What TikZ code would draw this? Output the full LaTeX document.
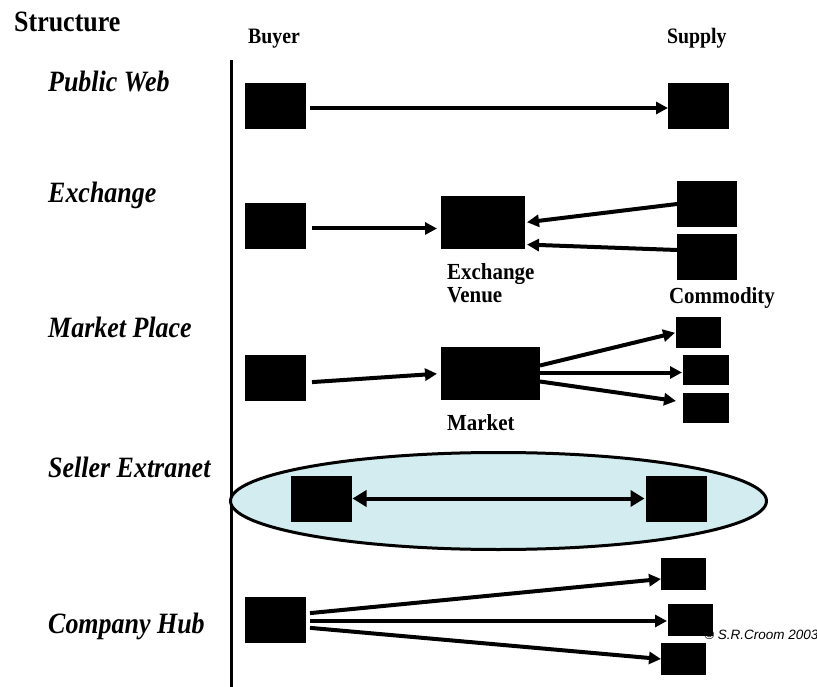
\documentclass[tikz,border=0pt]{standalone}
\usepackage{fontspec}
\setmainfont{Liberation Serif}
\newfontfamily\arialfont{Liberation Sans}
\usetikzlibrary{arrows.meta,shapes.geometric,calc}
\definecolor{netcyan}{RGB}{210,236,240}
% the original lettering is a little narrower than Times
\newcommand{\slim}[2][0.88]{\scalebox{#1}[1]{#2}}

\begin{document}
\begin{tikzpicture}[x=1pt,y=-1pt,
  blk/.style={fill=black,inner sep=0pt,outer sep=0pt,minimum width=61pt,minimum height=46pt},
  sblk/.style={fill=black,inner sep=0pt,outer sep=0pt,minimum width=45pt,minimum height=31pt},
  arr/.style={line width=4pt,-{Triangle[length=12pt,width=12pt]}},
  rowlab/.style={anchor=base west,inner sep=0pt,font=\fontsize{29.5}{34}\selectfont\bfseries\itshape},
  collab/.style={anchor=base west,inner sep=0pt,font=\fontsize{22}{24}\selectfont\bfseries},
  boxlab/.style={font=\fontsize{23}{23}\selectfont\bfseries,inner sep=0pt}]
\useasboundingbox (0,0) rectangle (817,687);
% Headings and row names
\node[anchor=base west,inner sep=0pt,font=\fontsize{29.5}{34}\selectfont\bfseries] (title) at (14,32) {\slim{Structure}};
\node[collab] (buyer) at (248,44) {\slim[0.9]{Buyer}};
\node[collab] (supply) at (667,44) {\slim[0.9]{Supply}};
\node[rowlab] (pwlab) at (48,92) {\slim{Public Web}};
\node[rowlab] (exlab) at (48,203) {\slim{Exchange}};
\node[rowlab] (mplab) at (48,337) {\slim{Market Place}};
\node[rowlab] (selab) at (48,477) {\slim{Seller Extranet}};
\node[rowlab] (chlab) at (48,633) {\slim{Company Hub}};
\coordinate (ltop) at (231.5,60);
\coordinate (lbot) at (231.5,687);
\draw[line width=3pt] (ltop) -- (lbot);
% Public Web
\node[blk] (pwb) at (275.5,106) {};
\node[blk] (pws) at (698.5,106) {};
\draw[arr,shorten <=4pt] ([yshift=-2pt]pwb.east) -- ([yshift=-2pt]pws.west);
% Exchange
\node[blk] (exb) at (275.5,226.5) {};
\node[blk,minimum width=84pt,minimum height=53pt] (exv) at (483,222.5) {};
\node[blk,minimum width=60pt] (exs1) at (707,204) {};
\node[blk,minimum width=60pt] (exs2) at (707,257) {};
\draw[arr,shorten <=6pt,shorten >=4pt] ([yshift=-2pt]exb.east) -- ([yshift=-2pt]exb.east -| exv.west);
\draw[arr,shorten >=2pt] (exs1.west) -- ([yshift=0pt]exv.east);
\draw[arr,shorten >=2pt] ([yshift=7pt]exs2.west) -- ([yshift=-22pt]exv.east);
\node[boxlab,anchor=north west,align=left] (exvlab) at (447,263) {\slim[0.91]{Exchange}\\\slim[0.91]{Venue}};
\node[boxlab,anchor=base] (comlab) at (722,303) {\slim[0.91]{Commodity}};
% Market Place
\node[blk] (mpb) at (275.5,377.5) {};
\node[blk,minimum width=99pt,minimum height=53pt] (mpm) at (490.5,373.5) {};
\node[sblk] (mps1) at (698.5,332.5) {};
\node[sblk,minimum width=46pt,minimum height=30pt] (mps2) at (706,370) {};
\node[sblk,minimum width=46pt,minimum height=30pt] (mps3) at (706,408) {};
\draw[arr,shorten <=6pt,shorten >=4pt] ([yshift=-5pt]mpb.east) -- (mpm.west);
\draw[arr,shorten >=1pt] ([yshift=8pt]mpm.east) -- (mps1.west);
\draw[arr,shorten >=1pt] ([yshift=1pt]mpm.east) -- ([yshift=1pt]mpm.east -| mps2.west);
\draw[arr] ([yshift=-8pt]mpm.east) -- ([xshift=-7pt,yshift=7pt]mps3.west);
\node[boxlab,anchor=base west] (mktlab) at (447,430) {\slim[0.91]{Market}};
% Seller Extranet
\node[ellipse,draw,line width=3pt,fill=netcyan,minimum width=536pt,minimum height=97pt] (net) at (498.5,501) {};
\node[blk] (seb) at (321,498.5) {};
\node[blk] (ses) at (676,498.5) {};
\draw[line width=4pt,{Triangle[length=14pt,width=16pt]}-{Triangle[length=14pt,width=16pt]},shorten <=1pt,shorten >=1pt] (seb.east) -- (ses.west);
% Company Hub
\node[blk] (chb) at (275.5,619.5) {};
\node[sblk,minimum height=32pt] (chs1) at (683.5,574) {};
\node[sblk,minimum height=32pt] (chs2) at (690.5,620) {};
\node[sblk,minimum height=32pt] (chs3) at (683.5,659) {};
\draw[arr,shorten <=4pt] ([yshift=6pt]chb.east) -- ([yshift=-5pt]chs1.west);
\draw[arr,shorten <=4pt,shorten >=1pt] ([yshift=-1.5pt]chb.east) -- ([yshift=-1.5pt]chb.east -| chs2.west);
\draw[arr,shorten <=4pt] ([yshift=-8pt]chb.east) -- (chs3.west);
\node[anchor=base west,inner sep=0pt,font=\arialfont\itshape\fontsize{13.5}{15}\selectfont] (copy) at (704,639) {\textcopyright\ S.R.Croom 2003};
\end{tikzpicture}
\end{document}
